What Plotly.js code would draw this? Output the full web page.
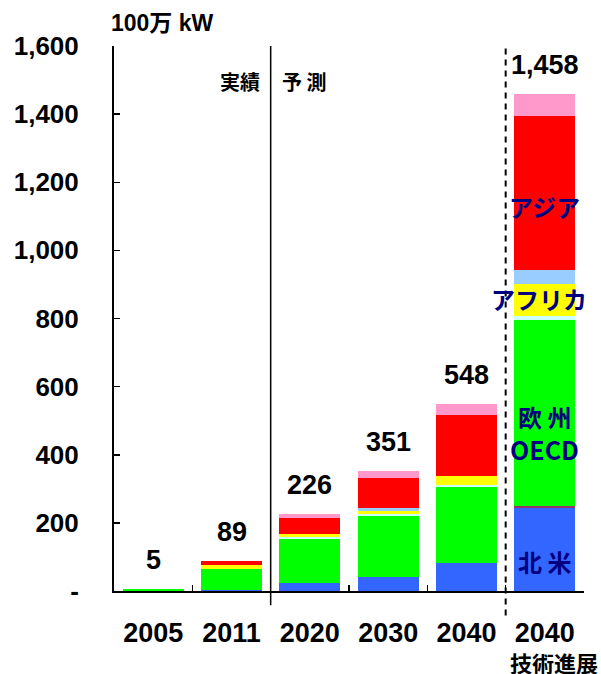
<!DOCTYPE html>
<html>
<head>
<meta charset="utf-8">
<script src="https://cdn.plot.ly/plotly-3.0.1.min.js"></script>
<style>html,body{margin:0;padding:0;background:#fff;}#chart{width:601px;height:674px;}</style>
</head>
<body>
<div id="chart"></div>
<script>
// Categories and tick labels
var categories = ["2005", "2011", "2020", "2030", "2040", "2040技術進展"];
var tickLabels = ["2005", "2011", "2020", "2030", "2040", "2040"];

// Series values (100万kW), bottom to top
var northAmerica = [0, 3, 23, 40, 81, 243];
var latinAmerica = [0, 0, 0, 0, 0, 8];
var europeOECD   = [5, 62, 131, 181, 223, 545];
var middleEast   = [0, 0, 5, 6, 6, 11];
var africa       = [0, 12, 9, 9, 27, 93];
var otherRegion  = [0, 0, 0, 7, 2, 43];
var asia         = [0, 12, 47, 90, 177, 451];
var otherWorld   = [0, 0, 11, 18, 32, 64];

var yTickVals = [0, 200, 400, 600, 800, 1000, 1200, 1400, 1600];
var yTickText = ["-", "200", "400", "600", "800", "1,000", "1,200", "1,400", "1,600"];

var seriesList = [
  {name: "北米", y: northAmerica, color: "#3366FF"},
  {name: "中南米", y: latinAmerica, color: "#993366"},
  {name: "欧州OECD", y: europeOECD, color: "#00FF00"},
  {name: "中東", y: middleEast, color: "#CCFFFF"},
  {name: "アフリカ", y: africa, color: "#FFFF00"},
  {name: "その他", y: otherRegion, color: "#99CCFF"},
  {name: "アジア", y: asia, color: "#FF0000"},
  {name: "その他世界", y: otherWorld, color: "#FF99CC"}
];

var traces = seriesList.map(function (s) {
  return {
    type: "bar", x: categories, y: s.y, name: s.name,
    marker: {color: s.color, line: {width: 0}},
    hoverinfo: "skip"
  };
});

var totals = categories.map(function (c, i) {
  return seriesList.reduce(function (a, s) { return a + s.y[i]; }, 0);
});

var numFont = "Liberation Sans, Arial, sans-serif";
var jpFont = "Noto Sans CJK JP, sans-serif";

var annotations = totals.map(function (t, i) {
  return {
    x: i, y: t, xref: "x", yref: "y",
    text: t.toLocaleString("en-US"), showarrow: false,
    yanchor: "middle", yshift: 29,
    font: {family: numFont, size: 27, color: "#000", weight: "bold"}
  };
});

var navy = "#000080";
annotations.push(
  {x: -0.01, y: 1.042, xref: "paper", yref: "paper", xanchor: "left", yanchor: "middle",
   text: "100万 kW", showarrow: false,
   font: {family: "Liberation Sans, Noto Sans CJK JP, sans-serif", size: 23, color: "#000", weight: "bold"}},
  {x: 1.5, y: 0.934, xref: "x", yref: "paper", xanchor: "right", yanchor: "middle", xshift: -9,
   text: "実績", showarrow: false, font: {family: jpFont, size: 20, color: "#000", weight: "bold"}},
  {x: 1.5, y: 0.934, xref: "x", yref: "paper", xanchor: "left", yanchor: "middle", xshift: 9,
   text: "予 測", showarrow: false, font: {family: jpFont, size: 20, color: "#000", weight: "bold"}},
  {x: 4.5, y: -0.131, xref: "x", yref: "paper", xanchor: "left", yanchor: "middle", xshift: 2,
   text: "技術進展", showarrow: false, font: {family: jpFont, size: 22, color: "#000", weight: "bold"}},
  {x: 5, y: 0.7046, xref: "x", yref: "paper", yanchor: "middle",
   text: "アジア", showarrow: false, font: {family: jpFont, size: 24, color: navy, weight: "bold"}},
  {x: 5, y: 0.5376, xref: "x", yref: "paper", yanchor: "middle", xshift: -6,
   text: "アフリカ", showarrow: false, font: {family: jpFont, size: 24, color: navy, weight: "bold"}},
  {x: 5, y: 0.3198, xref: "x", yref: "paper", yanchor: "middle",
   text: "欧 州", showarrow: false, font: {family: jpFont, size: 24, color: navy, weight: "bold"}},
  {x: 5, y: 0.2606, xref: "x", yref: "paper", yanchor: "middle",
   text: "OECD", showarrow: false, font: {family: jpFont, size: 25, color: navy, weight: "bold"}},
  {x: 5, y: 0.0538, xref: "x", yref: "paper", yanchor: "middle",
   text: "北 米", showarrow: false, font: {family: jpFont, size: 24, color: navy, weight: "bold"}}
);

var layout = {
  width: 601, height: 674,
  margin: {l: 114, r: 17, t: 46, b: 83},
  paper_bgcolor: "#fff", plot_bgcolor: "#fff",
  barmode: "stack", bargap: 0.22,
  showlegend: false,
  xaxis: {
    type: "category", range: [-0.5, 5.5],
    tickvals: categories, ticktext: tickLabels,
    tickson: "boundaries", ticks: "inside", ticklen: 6, tickwidth: 1.5, tickcolor: "#000",
    showline: true, linecolor: "#000", linewidth: 2,
    showgrid: false, zeroline: false,
    ticklabelstandoff: 17,
    tickfont: {family: numFont, size: 27, color: "#000", weight: "bold"}
  },
  yaxis: {
    range: [0, 1600],
    tickvals: yTickVals, ticktext: yTickText,
    ticks: "inside", ticklen: 6, tickwidth: 1.5, tickcolor: "#000",
    showline: true, linecolor: "#000", linewidth: 2,
    showgrid: false, zeroline: false,
    ticklabelstandoff: 28,
    tickfont: {family: numFont, size: 26, color: "#000", weight: "bold"}
  },
  shapes: [
    {type: "line", xref: "x", yref: "paper", x0: 1.5, x1: 1.5, y0: -0.026, y1: 1.0,
     line: {color: "#000", width: 1.5}},
    {type: "line", xref: "x", yref: "paper", x0: 4.5, x1: 4.5, y0: -0.045, y1: 1.0,
     line: {color: "#000", width: 2, dash: "6px,5px"}}
  ],
  annotations: annotations
};

Plotly.newPlot("chart", traces, layout, {staticPlot: true, displayModeBar: false});
</script>
</body>
</html>
